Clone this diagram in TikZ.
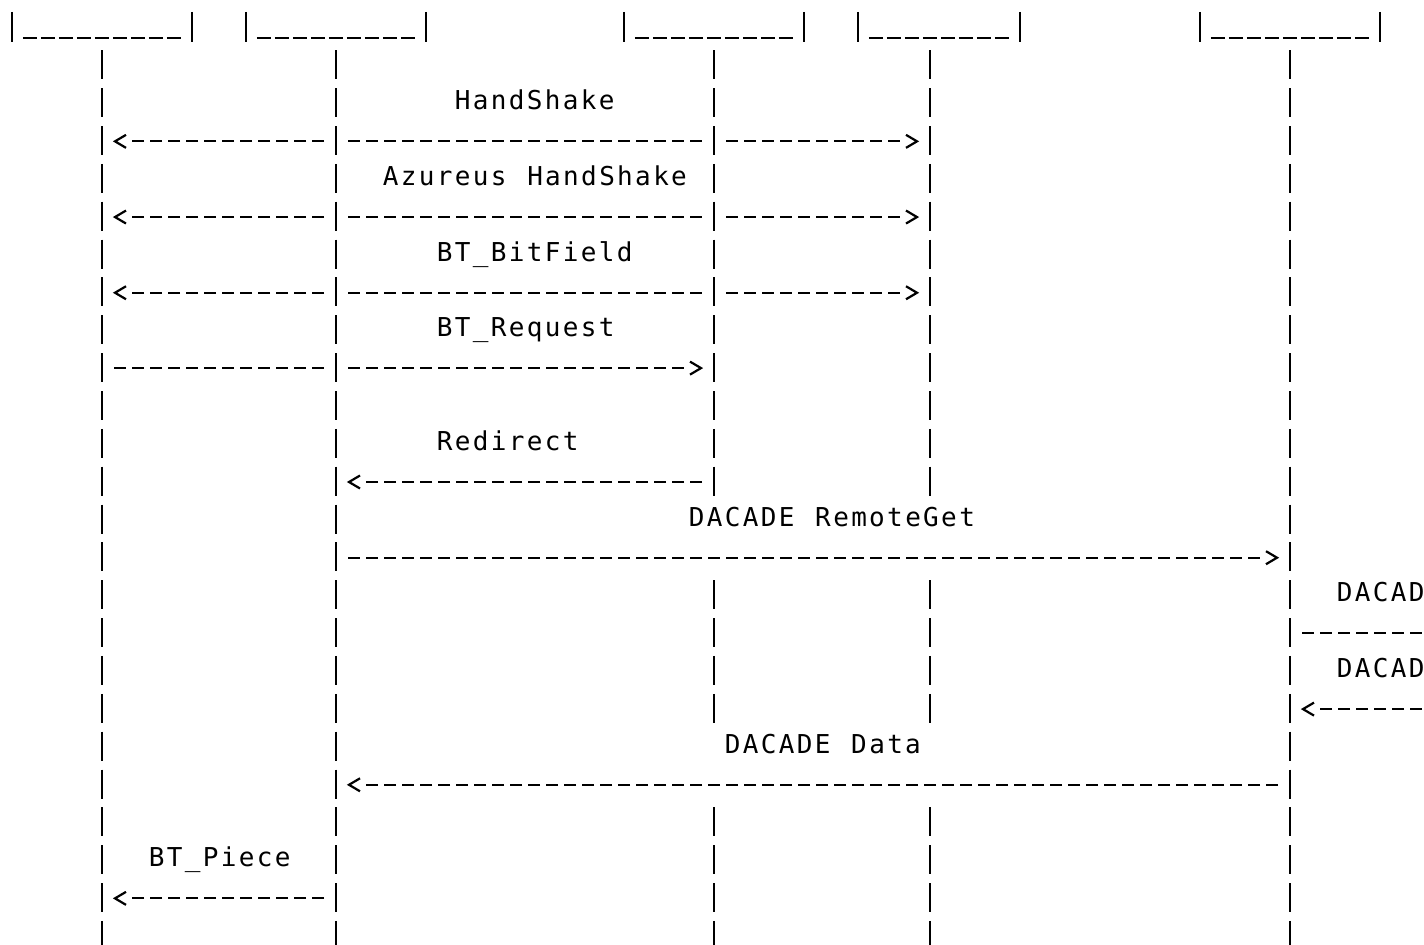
\documentclass[tikz,border=0pt]{standalone}
\usepackage{fontspec}
\newfontfamily\asciifont[LetterSpace=9.03,WordSpace=1.15]{DejaVu Sans Mono}

\tikzset{every picture/.style={line width=1.65pt}}

\begin{document}
\begin{tikzpicture}[x=0.75pt,y=0.75pt,yscale=-1,xscale=1,
  lifeline/.style={dash pattern=on 21.75pt off 6.6375pt},
  msg/.style={dash pattern=on 9pt off 4.5pt, shorten <=9pt, shorten >=9pt},
  msgtip/.style={msg, shorten >=20.25pt},
  chev/.style={solid},
  boxfloor/.style={dash pattern=on 10.875pt off 2.625pt},
  lbl/.style={anchor=base west, inner sep=0pt, font=\fontsize{19.5pt}{21pt}\asciifont}]
\useasboundingbox (0,0) rectangle (1424,945);
\clip (0,0) rectangle (1424,945);

% lifeline columns
\coordinate (A) at (102,0);
\coordinate (B) at (336,0);
\coordinate (C) at (714,0);
\coordinate (D) at (930,0);
\coordinate (E) at (1290,0);
\coordinate (F) at (1524,0);
% lifeline ends and breaks
\coordinate (ltop) at (0,50.35);
\coordinate (lbot) at (0,949.9);
\coordinate (brk1) at (0,495.7);
\coordinate (res1) at (0,580.25);
\coordinate (brk2) at (0,722.8);
\coordinate (res2) at (0,807.35);
% message rows
\coordinate (r3) at (0,141.35);
\coordinate (r5) at (0,217.05);
\coordinate (r7) at (0,292.75);
\coordinate (r9) at (0,368.1);
\coordinate (r12) at (0,482);
\coordinate (r14) at (0,557.7);
\coordinate (r16) at (0,633.1);
\coordinate (r18) at (0,709.1);
\coordinate (r20) at (0,784.8);
\coordinate (r23) at (0,898.35);

%Shape: Box bottoms
\draw (12,12) -- (12,42) (192,12) -- (192,42);
\draw [boxfloor] (22.75,37.7) -- (181.25,37.7);
\draw (246,12) -- (246,42) (426,12) -- (426,42);
\draw [boxfloor] (256.75,37.7) -- (415.25,37.7);
\draw (624,12) -- (624,42) (804,12) -- (804,42);
\draw [boxfloor] (634.75,37.7) -- (793.25,37.7);
\draw (858,12) -- (858,42) (1020,12) -- (1020,42);
\draw [boxfloor] (868.75,37.7) -- (1009.25,37.7);
\draw (1200,12) -- (1200,42) (1380,12) -- (1380,42);
\draw [boxfloor] (1210.75,37.7) -- (1369.25,37.7);

%Straight Lines: lifelines
\draw [lifeline] (A |- ltop) -- (A |- lbot);
\draw [lifeline] (B |- ltop) -- (B |- lbot);
\draw [lifeline] (C |- ltop) -- (C |- brk1);
\draw [lifeline] (C |- res1) -- (C |- brk2);
\draw [lifeline] (C |- res2) -- (C |- lbot);
\draw [lifeline] (D |- ltop) -- (D |- brk1);
\draw [lifeline] (D |- res1) -- (D |- brk2);
\draw [lifeline] (D |- res2) -- (D |- lbot);
\draw [lifeline] (E |- ltop) -- (E |- lbot);

%Straight Lines: HandShake
\draw [msgtip] (B |- r3) -- (A |- r3);
\draw [chev, shift={(A |- r3)}] (24,-6.5) -- (13,0) -- (24,6.5);
\draw [msg] (B |- r3) -- (C |- r3);
\draw [msgtip] (C |- r3) -- (D |- r3);
\draw [chev, shift={(D |- r3)}] (-24,-6.5) -- (-13,0) -- (-24,6.5);
%Straight Lines: Azureus HandShake
\draw [msgtip] (B |- r5) -- (A |- r5);
\draw [chev, shift={(A |- r5)}] (24,-6.5) -- (13,0) -- (24,6.5);
\draw [msg] (B |- r5) -- (C |- r5);
\draw [msgtip] (C |- r5) -- (D |- r5);
\draw [chev, shift={(D |- r5)}] (-24,-6.5) -- (-13,0) -- (-24,6.5);
%Straight Lines: BT_BitField
\draw [msgtip] (B |- r7) -- (A |- r7);
\draw [chev, shift={(A |- r7)}] (24,-6.5) -- (13,0) -- (24,6.5);
\draw [msg] (B |- r7) -- (C |- r7);
\draw [msgtip] (C |- r7) -- (D |- r7);
\draw [chev, shift={(D |- r7)}] (-24,-6.5) -- (-13,0) -- (-24,6.5);
%Straight Lines: BT_Request
\draw [msg] (A |- r9) -- (B |- r9);
\draw [msgtip] (B |- r9) -- (C |- r9);
\draw [chev, shift={(C |- r9)}] (-24,-6.5) -- (-13,0) -- (-24,6.5);
%Straight Lines: Redirect
\draw [msgtip] (C |- r12) -- (B |- r12);
\draw [chev, shift={(B |- r12)}] (24,-6.5) -- (13,0) -- (24,6.5);
%Straight Lines: DACADE RemoteGet
\draw [msgtip] (B |- r14) -- (E |- r14);
\draw [chev, shift={(E |- r14)}] (-24,-6.5) -- (-13,0) -- (-24,6.5);
%Straight Lines: to the right
\draw [msg] (E |- r16) -- (F |- r16);
\draw [msgtip] (F |- r18) -- (E |- r18);
\draw [chev, shift={(E |- r18)}] (24,-6.5) -- (13,0) -- (24,6.5);
%Straight Lines: DACADE Data
\draw [msgtip] (E |- r20) -- (B |- r20);
\draw [chev, shift={(B |- r20)}] (24,-6.5) -- (13,0) -- (24,6.5);
%Straight Lines: BT_Piece
\draw [msgtip] (B |- r23) -- (A |- r23);
\draw [chev, shift={(A |- r23)}] (24,-6.5) -- (13,0) -- (24,6.5);

% Text Node
\node [lbl] (hs) at (453.8,109.7) {HandShake};
% Text Node
\node [lbl] (azhs) at (381.8,185.4) {Azureus HandShake};
% Text Node
\node [lbl] (bitf) at (435.8,261.1) {BT\_BitField};
% Text Node
\node [lbl] (req) at (435.8,336.8) {BT\_Request};
% Text Node
\node [lbl] (redir) at (435.8,450.35) {Redirect};
% Text Node
\node [lbl] (rget) at (687.8,526.05) {DACADE RemoteGet};
% Text Node
\node [lbl] (dac1) at (1335.8,601.75) {DACAD};
% Text Node
\node [lbl] (dac2) at (1335.8,677.45) {DACAD};
% Text Node
\node [lbl] (ddata) at (723.8,753.15) {DACADE Data};
% Text Node
\node [lbl] (piece) at (147.8,866.7) {BT\_Piece};

\end{tikzpicture}
\end{document}
